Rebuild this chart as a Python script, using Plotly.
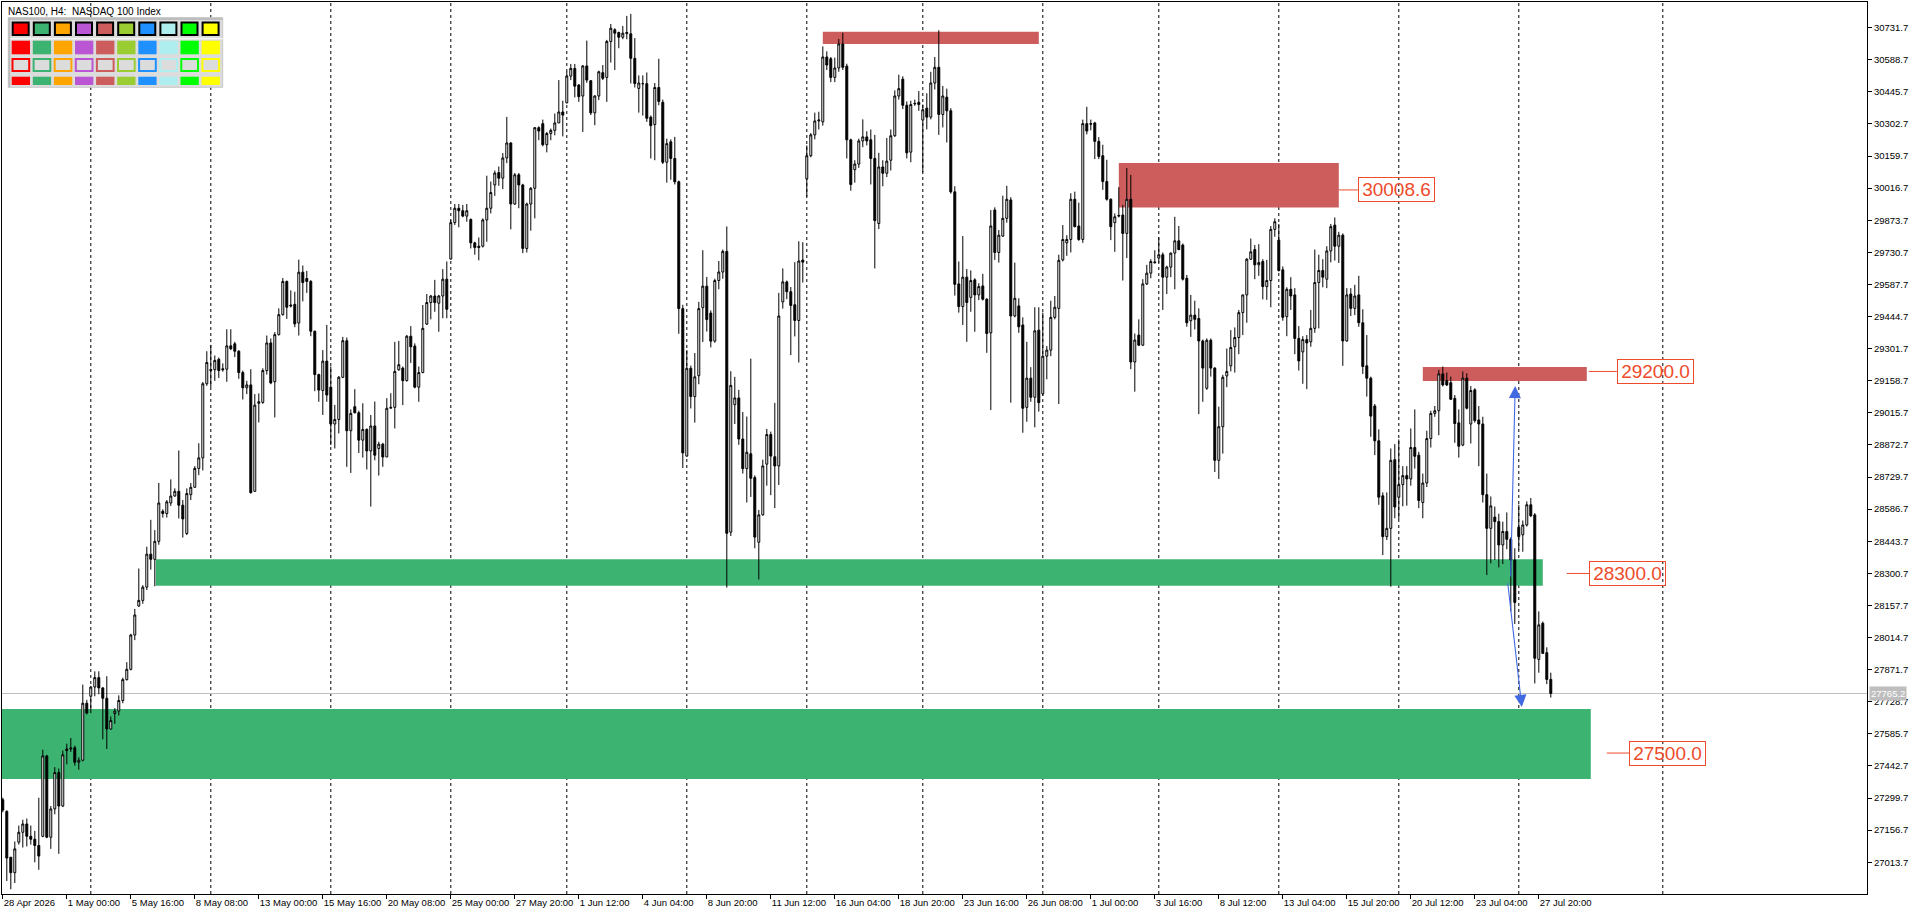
import plotly.graph_objects as go

# ---------------- data ----------------
opens = [27292,27240,27036,26967,27103,27147,27184,27129,27116,27088,27129,27487,27125,27251,27413,27264,27518,27518,27524,27459,
27468,27722,27753,27794,27836,27790,27744,27607,27676,27687,27734,27827,27873,28026,28155,28180,28239,28386,28363,28443,
28577,28567,28614,28645,28666,28604,28478,28651,28684,28768,28815,29145,29204,29208,29254,29212,29210,29314,29323,29290,
29195,29127,29140,28666,29058,29062,29204,29327,29154,29364,29453,29601,29496,29499,29416,29642,29614,29601,29379,29186,
29115,29246,29130,28966,28986,29174,29337,28936,29043,29016,28894,28942,28846,28957,28857,28876,28819,29036,29040,29207,
29215,29159,29357,29313,29130,29195,29411,29507,29536,29504,29536,29611,29701,29863,29927,29916,29892,29877,29773,29758,
29758,29875,29927,30031,30086,30061,30151,30218,29946,30076,30031,29748,29946,30016,30286,30304,30210,30260,30274,30307,
30356,30397,30516,30550,30476,30427,30561,30495,30352,30427,30531,30510,30670,30722,30710,30689,30705,30704,30595,30461,
30482,30482,30333,30300,30465,30399,30132,30223,30149,30045,29480,28823,29214,29088,29181,29484,29580,29460,29335,29605,
29643,29735,28484,29052,29082,28899,28767,28833,28727,28439,28561,28787,28919,28820,28779,29510,29599,29555,29497,29427,
29696,30058,30161,30254,30316,30312,30601,30593,30510,30552,30659,30560,30232,30099,30124,30227,30245,30232,30149,29859,
30111,30083,30141,30250,30427,30502,30386,30177,30392,30399,30320,30373,30333,30485,30555,30345,30422,30361,30000,29590,
29489,29620,29530,29608,29541,29581,29522,29372,29919,29730,29803,29882,29964,29447,29492,29407,29040,29170,29085,29384,
29100,29268,29295,29441,29481,29697,29773,29788,29967,29848,29788,30304,30301,30307,30225,30161,30046,29967,29863,29892,
29897,29815,29967,29242,29362,29317,29590,29638,29688,29705,29720,29620,29665,29727,29782,29763,29615,29426,29451,29436,
29336,29125,29339,29215,28804,28954,29180,29225,29310,29351,29462,29541,29700,29743,29675,29690,29578,29605,29833,29785,
29653,29444,29566,29541,29347,29287,29342,29332,29392,29596,29650,29611,29737,29852,29758,29807,29336,29545,29481,29541,
29417,29225,29170,29046,28891,28646,28464,28501,28807,28640,28696,28736,28721,28861,28827,28616,28703,28901,29013,29025,
29189,29159,29150,29080,28971,28872,29170,28966,29118,28984,28966,28651,28501,28551,28531,28427,28487,28452,28360,28506,
28472,28516,28606,28561,27917,28078,27947,27828]

highs = [27301,27245,27036,27106,27177,27203,27208,27177,27153,27301,27515,27492,27264,27437,27431,27511,27542,27567,27533,27481,
27805,27737,27799,27864,27864,27794,27842,27663,27700,27757,27836,27905,28031,28142,28322,28248,28419,28539,28493,28703,
28586,28627,28719,28679,28848,28627,28679,28703,28778,28880,29153,29290,29318,29271,29262,29236,29388,29388,29332,29295,
29204,29158,29210,29099,29102,29214,29360,29347,29375,29481,29616,29605,29561,29555,29698,29672,29648,29607,29382,29190,
29295,29407,29222,29051,29180,29354,29351,29031,29121,29025,29058,28946,29006,29066,28887,28882,29081,29103,29332,29336,
29222,29362,29402,29325,29222,29496,29545,29541,29608,29541,29656,29690,29875,29946,29946,29942,29946,29882,29778,29797,
29882,30072,30046,30095,30113,30173,30334,30221,30084,30084,30036,29952,30021,30289,30292,30322,30267,30282,30349,30498,
30406,30535,30570,30570,30480,30565,30674,30498,30431,30540,30565,30677,30748,30729,30714,30739,30784,30793,30685,30519,
30519,30532,30340,30485,30593,30411,30237,30234,30245,30050,29497,29295,29226,29282,29510,29740,29621,29472,29613,29692,
29743,29846,29201,29176,29118,29019,28999,29257,28737,28583,28807,28944,28932,29060,29550,29659,29605,29576,29687,29780,
29776,30207,30262,30353,30357,30648,30626,30601,30598,30681,30709,30571,30237,30141,30237,30323,30270,30278,30254,30174,
30141,30240,30278,30452,30522,30515,30403,30406,30411,30449,30389,30439,30535,30601,30720,30472,30460,30373,30025,29690,
29803,29656,29650,29615,29593,29635,29526,29919,29931,29830,29983,30027,29976,29685,29526,29441,29332,29219,29486,29486,
29462,29313,29515,29536,29720,29852,29807,29994,30001,29952,30322,30379,30322,30312,30244,30210,30143,29971,29904,30021,
29942,30106,30076,29369,29432,29611,29675,29700,29740,29797,29730,29671,29730,29889,29848,29770,29630,29541,29515,29481,
29342,29347,29347,29219,29043,29185,29302,29384,29396,29474,29541,29705,29792,29763,29767,29700,29697,29848,29882,29857,
29668,29575,29620,29571,29402,29357,29362,29474,29743,29720,29700,29758,29857,29886,29822,29815,29571,29571,29586,29626,
29477,29362,29177,29055,28942,28661,28661,28857,28876,28897,28778,28778,28946,29031,28842,28745,28936,29025,29046,29207,
29222,29195,29177,29095,29031,29200,29192,29135,29125,29046,28998,28745,28643,28598,28566,28531,28572,28461,28412,28606,
28536,28621,28636,28569,28131,28086,27971,27858]

lows = [27236,26930,26893,26921,27092,27079,27084,27092,27013,26980,27125,27121,27073,27227,27051,27259,27450,27505,27444,27426,
27463,27672,27678,27753,27762,27561,27518,27604,27630,27667,27722,27823,27868,28003,28152,28165,28226,28317,28243,28428,
28549,28549,28601,28642,28545,28460,28471,28627,28682,28738,28759,29136,29130,29158,29171,29199,29154,29295,29264,29167,
29075,29099,28656,28664,28973,29056,29186,29143,28995,29360,29449,29434,29485,29397,29360,29512,29550,29357,29112,29065,
29006,29065,28872,28857,28924,29170,28775,28748,29013,28837,28816,28763,28598,28804,28736,28775,28819,29036,28946,29204,
29050,29155,29238,29125,29065,29192,29407,29432,29466,29377,29437,29437,29698,29852,29842,29887,29867,29748,29720,29695,
29752,29778,29904,29982,30027,30012,30128,29833,29942,29927,29727,29730,29827,29882,30230,30203,30176,30230,30252,30307,
30247,30394,30498,30421,30401,30267,30486,30342,30297,30409,30498,30401,30576,30543,30640,30680,30680,30483,30465,30353,
30340,30312,30149,30141,30386,30124,30041,30054,30033,29368,28770,28820,29035,28972,29143,29331,29378,29307,29328,29566,
29613,28237,28467,28966,28873,28745,28616,28641,28412,28273,28558,28691,28649,28591,28694,29480,29522,29273,29356,29240,
29596,29978,30154,30234,30278,30295,30543,30489,30489,30535,30543,30149,30005,30041,30107,30199,30207,30033,29659,29834,
30025,30066,30095,30245,30411,30369,30149,30132,30383,30361,30087,30278,30323,30456,30254,30287,30220,29992,29538,29462,
29407,29332,29466,29377,29518,29516,29283,29028,29697,29685,29800,29863,29061,29441,29372,28927,28976,29065,28951,29021,
29091,29165,29268,29432,29055,29690,29715,29730,29842,29782,29773,30256,30274,30146,30146,30009,29961,29785,29733,29886,
29605,29705,29210,29110,29313,29313,29585,29615,29680,29685,29474,29545,29620,29566,29740,29605,29399,29354,29387,29010,
29065,29118,29177,28752,28721,28834,29130,29200,29195,29277,29362,29417,29697,29611,29626,29521,29519,29486,29800,29645,
29426,29357,29474,29277,29204,29145,29121,29310,29372,29392,29575,29571,29686,29694,29683,29225,29332,29447,29451,29399,
29189,29088,28909,28827,28606,28382,28449,28241,28546,28542,28599,28602,28691,28767,28591,28546,28685,28861,28998,28916,
29133,29135,29073,28882,28816,28867,29031,28879,28972,28778,28616,28293,28345,28360,28327,28342,28408,28131,28075,28405,
28397,28509,28551,27810,27858,27941,27807,27747]

closes = [27246,27032,26967,27073,27147,27184,27129,27116,27088,27041,27487,27125,27251,27413,27264,27492,27511,27522,27459,27468,
27722,27678,27794,27836,27790,27744,27607,27645,27687,27734,27827,27873,28026,28115,28180,28239,28386,28363,28443,28614,
28567,28619,28645,28666,28604,28543,28656,28684,28768,28815,29145,29240,29208,29249,29204,29208,29314,29301,29290,29195,
29127,29140,28660,29050,29065,29204,29327,29149,29364,29453,29601,29486,29492,29412,29642,29596,29601,29379,29186,29117,
29246,29095,28966,28986,29174,29337,28936,29013,29016,28894,28942,28846,28957,28827,28876,28819,29036,29040,29200,29230,
29159,29357,29310,29130,29195,29392,29507,29536,29507,29536,29611,29477,29863,29927,29916,29892,29916,29773,29752,29752,
29875,29927,29997,30084,30061,30151,30218,29946,30076,30031,29748,29946,30016,30286,30271,30210,30260,30274,30307,30356,
30342,30516,30550,30471,30424,30561,30498,30352,30427,30535,30506,30670,30729,30707,30689,30707,30710,30595,30483,30485,
30482,30328,30295,30465,30403,30132,30215,30149,30045,29480,28837,29214,29088,29176,29480,29580,29431,29335,29605,29643,
29735,28479,29138,29082,28899,28767,28840,28724,28462,28561,28779,28919,28823,28779,29447,29599,29555,29494,29427,29692,
29687,30161,30254,30316,30320,30601,30565,30510,30552,30659,30555,30232,30033,30124,30227,30245,30227,30149,29872,30111,
30083,30137,30250,30427,30460,30386,30174,30389,30394,30389,30366,30333,30485,30555,30345,30427,30361,30000,29588,29489,
29620,29507,29605,29541,29578,29522,29369,29848,29730,29807,29882,29967,29447,29526,29399,29036,29170,29085,29381,29061,
29268,29295,29441,29486,29695,29788,29788,29967,29845,29788,30304,30271,30304,30225,30158,30046,29967,29845,29889,29895,
29815,29967,29242,29340,29317,29590,29638,29690,29685,29720,29620,29665,29727,29782,29743,29611,29417,29451,29432,29336,
29215,29339,29215,28804,28954,29174,29200,29307,29351,29462,29541,29700,29733,29675,29685,29578,29605,29833,29867,29650,
29441,29566,29536,29347,29247,29342,29327,29392,29596,29650,29620,29737,29845,29758,29807,29336,29541,29481,29536,29417,
29222,29170,29001,28891,28640,28464,28501,28804,28596,28696,28736,28721,28861,28822,28625,28703,28901,29013,29025,29189,
29140,29140,29076,28968,28867,29170,29036,29115,28981,28966,28651,28501,28601,28531,28427,28487,28452,28360,28171,28464,
28516,28606,28557,27922,28071,27944,27828,27765.2]

current_price = 27765.2

# x-axis labels (one every 16 H4 bars)
tick_bars = list(range(0, 400, 16))[:25]
tick_labels = ["28 Apr 2026", "1 May 00:00", "5 May 16:00", "8 May 08:00", "13 May 00:00", "15 May 16:00",
               "20 May 08:00", "25 May 00:00", "27 May 20:00", "1 Jun 12:00", "4 Jun 04:00", "8 Jun 20:00",
               "11 Jun 12:00", "16 Jun 04:00", "18 Jun 20:00", "23 Jun 16:00", "26 Jun 08:00", "1 Jul 00:00",
               "3 Jul 16:00", "8 Jul 12:00", "13 Jul 04:00", "15 Jul 20:00", "20 Jul 12:00", "23 Jul 04:00",
               "27 Jul 20:00"]

# price axis labels
price_ticks = [27013.7, 27156.7, 27299.7, 27442.7, 27585.7, 27728.7, 27871.7, 28014.7, 28157.7, 28300.7,
               28443.7, 28586.7, 28729.7, 28872.7, 29015.7, 29158.7, 29301.7, 29444.7, 29587.7, 29730.7,
               29873.7, 30016.7, 30159.7, 30302.7, 30445.7, 30588.7, 30731.7]

# weekly separators (bar positions)
week_lines = [22, 52, 82, 112, 141, 171, 201, 230, 260, 289, 319, 349, 379, 415]

# zones: (bar_from, bar_to, price_low, price_high)
red_zones = [(205, 259, 30659, 30713), (279, 334, 29930, 30129), (355, 396, 29157, 29220)]
green_zones = [(38.25, 385, 28245, 28363), (-1, 397, 27384, 27696)]

# level labels: (price, text, line_from_bar, box_left_bar)
level_labels = [(30008.6, "30008.6", 334, 338.75), (29200.0, "29200.0", 396.5, 403.5),
                (28300.0, "28300.0", 391, 396.6), (27500.0, "27500.0", 401, 406.6)]

# arrows: (tail_bar, tail_price, tip_bar, tip_price)
arrows = [(376.95, 28280, 378.1, 29135), (376.2, 28263, 379.75, 27705)]

palette = ["#FF0000", "#3CB371", "#FFA500", "#BA55D3", "#CD5C5C",
           "#9ACD32", "#1E90FF", "#AFEEEE", "#00FF00", "#FFFF00"]

# ---------------- figure ----------------
W, H = 1920, 915
L, R, T, B = 2, 1867, 2, 894
X0, X1 = -0.2, 466.05
Y0, Y1 = 26872.0, 30845.9

def pxx(px):
    return (px - L) / (R - L)

def pxy(py):
    return 1 - (py - T) / (B - T)

idx = list(range(len(opens)))
fig = go.Figure()
fig.add_trace(go.Candlestick(
    x=idx, open=opens, high=highs, low=lows, close=closes,
    increasing=dict(line=dict(color="black", width=1), fillcolor="white"),
    decreasing=dict(line=dict(color="black", width=1), fillcolor="black"),
    whiskerwidth=0, hoverinfo="skip", showlegend=False))

shapes = []
RED = "#CD5C5C"
GREEN = "#3CB371"
LBL = "#EE4B2B"
for (a, b, lo, hi) in red_zones:
    shapes.append(dict(type="rect", xref="x", yref="y", x0=a, x1=b, y0=lo, y1=hi,
                       fillcolor=RED, line=dict(width=0), layer="below"))
for (a, b, lo, hi) in green_zones:
    shapes.append(dict(type="rect", xref="x", yref="y", x0=max(a, X0), x1=b, y0=lo, y1=hi,
                       fillcolor=GREEN, line=dict(width=0), layer="below"))
for w in week_lines:
    shapes.append(dict(type="line", xref="x", yref="paper", x0=w, x1=w, y0=0, y1=1,
                       line=dict(color="black", width=1, dash="3px,3px"), layer="below"))
shapes.append(dict(type="line", xref="paper", yref="y", x0=0, x1=1, y0=current_price, y1=current_price,
                   line=dict(color="#C0C0C0", width=1), layer="below"))
for (p, t, a, b) in level_labels:
    shapes.append(dict(type="line", xref="x", yref="y", x0=a, x1=b, y0=p, y1=p,
                       line=dict(color=LBL, width=1)))

# palette widget (top-left)
shapes.append(dict(type="rect", xref="paper", yref="paper", x0=pxx(8.3), x1=pxx(222.7), y0=pxy(87.3), y1=pxy(17.7),
                   fillcolor="#DCDCDC", line=dict(color="#C8C8C8", width=1)))
shapes.append(dict(type="rect", xref="paper", yref="paper", x0=pxx(8.3), x1=pxx(222.7), y0=pxy(20), y1=pxy(17.7),
                   fillcolor="#BDBDBD", line=dict(width=0)))
shapes.append(dict(type="rect", xref="paper", yref="paper", x0=pxx(8.3), x1=pxx(10.3), y0=pxy(87.3), y1=pxy(17.7),
                   fillcolor="#BDBDBD", line=dict(width=0)))
shapes.append(dict(type="line", xref="paper", yref="paper", x0=pxx(10.3), x1=pxx(222.7), y0=pxy(38.8), y1=pxy(38.8),
                   line=dict(color="white", width=1)))
for k, c in enumerate(palette):
    sx = 11.7 + 21.1 * k
    shapes.append(dict(type="rect", xref="paper", yref="paper", x0=pxx(sx + 1), x1=pxx(sx + 17), y0=pxy(35), y1=pxy(22.5),
                       fillcolor=c, line=dict(color="black", width=2)))
    shapes.append(dict(type="rect", xref="paper", yref="paper", x0=pxx(sx), x1=pxx(sx + 18.3), y0=pxy(54.3), y1=pxy(40.7),
                       fillcolor=c, line=dict(width=0)))
    shapes.append(dict(type="rect", xref="paper", yref="paper", x0=pxx(sx + 0.8), x1=pxx(sx + 17.5), y0=pxy(71), y1=pxy(59),
                       fillcolor="#DCDCDC", line=dict(color=c, width=2)))
    shapes.append(dict(type="rect", xref="paper", yref="paper", x0=pxx(sx), x1=pxx(sx + 18.3), y0=pxy(85), y1=pxy(76.7),
                       fillcolor=c, line=dict(width=0)))

annotations = []
for (p, t, a, b) in level_labels:
    annotations.append(dict(x=b, y=p, xref="x", yref="y", text=t, showarrow=False,
                            xanchor="left", yanchor="middle", width=74, height=22,
                            font=dict(family="Liberation Sans", size=19, color=LBL),
                            bordercolor=LBL, borderwidth=1, borderpad=0.5,
                            bgcolor="rgba(0,0,0,0)"))
for (ta, tp, ha, hp) in arrows:
    annotations.append(dict(x=ha, y=hp, ax=ta, ay=tp, xref="x", yref="y", axref="x", ayref="y",
                            text="", showarrow=True, arrowhead=2, arrowsize=2.2, arrowwidth=1.1,
                            arrowcolor="#4169E1", standoff=0, startstandoff=0))
annotations.append(dict(x=pxx(1869.5), y=current_price, xref="paper", yref="y", text="27765.2",
                        showarrow=False, xanchor="left", yanchor="middle",
                        font=dict(family="Liberation Sans", size=9.5, color="white"),
                        bgcolor="#BEBEBE", borderpad=1))
annotations.append(dict(x=pxx(6), y=pxy(4), xref="paper", yref="paper",
                        text="NAS100, H4:  NASDAQ 100 Index", showarrow=False,
                        xanchor="left", yanchor="top",
                        font=dict(family="Liberation Sans", size=10, color="black")))

fig.update_layout(
    width=W, height=H,
    margin=dict(l=L, r=W - R, t=T, b=H - B, pad=0, autoexpand=False),
    paper_bgcolor="white", plot_bgcolor="white",
    showlegend=False, hovermode=False,
    shapes=shapes, annotations=annotations,
    font=dict(family="Liberation Sans", size=9.5, color="black"),
    xaxis=dict(range=[X0, X1], rangeslider=dict(visible=False), showgrid=False, zeroline=False,
               showline=True, linecolor="black", linewidth=1, mirror=True, automargin=False,
               ticks="outside", ticklen=4, tickcolor="black", tickwidth=1, tickangle=0,
               tickvals=tick_bars, ticktext=tick_labels, ticklabelposition="outside right",
               tickfont=dict(family="Liberation Sans", size=9.5, color="black"), fixedrange=True),
    yaxis=dict(range=[Y0, Y1], side="right", showgrid=False, zeroline=False,
               showline=True, linecolor="black", linewidth=1, mirror=True, automargin=False,
               ticks="outside", ticklen=4, tickcolor="black", tickwidth=1,
               tickvals=price_ticks, ticktext=[f"{v:.1f}" for v in price_ticks],
               tickfont=dict(family="Liberation Sans", size=9.5, color="black"), fixedrange=True),
)

fig.write_html("out.html", config={"displayModeBar": False},
               post_script="document.body.style.margin='0';document.body.style.overflow='hidden';")
